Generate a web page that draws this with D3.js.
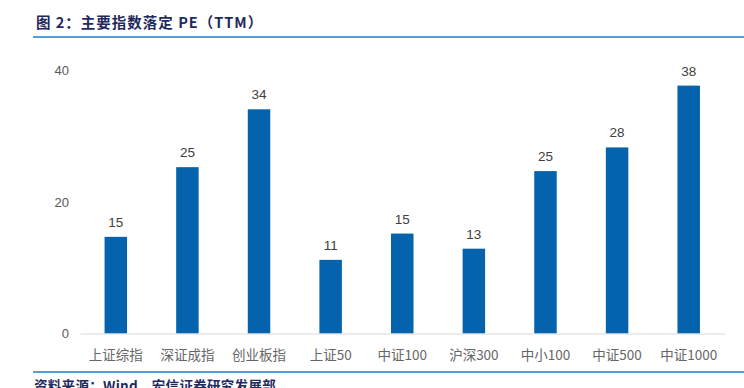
<!DOCTYPE html>
<html>
<head>
<meta charset="utf-8">
<script src="https://cdn.jsdelivr.net/npm/d3@7"></script>
<style>
  body { margin: 0; background: #fff; }
  svg { display: block; }
</style>
</head>
<body>
<div class="chart"></div>
<script>
// Data
const categories = ["上证综指", "深证成指", "创业板指", "上证50", "中证100", "沪深300", "中小100", "中证500", "中证1000"];
const peValues = [14.7, 25.3, 34.1, 11.2, 15.2, 12.9, 24.7, 28.3, 37.7];
const peLabels = ["15", "25", "34", "11", "15", "13", "25", "28", "38"];
const yTicks = [0, 20, 40];

let width = 744;
let height = 388;

// Baseline and top of the value scale
let baseY = 333.5;
let topY = 70.5;

let svg = d3.select(".chart").append("svg")
    .attr("width", width)
    .attr("height", height)
    .attr("viewBox", `0 0 ${width} ${height}`);

// Title
svg.append("text")
    .attr("x", 36)
    .attr("y", 28)
    .attr("fill", "#1f2a5e")
    .attr("font-family", "'Noto Sans CJK SC', sans-serif")
    .attr("font-weight", "bold")
    .attr("font-size", 14.5)
    .style("letter-spacing", "1px")
    .text("图 2：主要指数落定 PE（TTM）");

// Blue rules under title and above source
svg.append("line")
    .attr("x1", 33).attr("x2", width)
    .attr("y1", 37).attr("y2", 37)
    .attr("stroke", "#1a7fcf").attr("stroke-width", 1.5);

svg.append("line")
    .attr("x1", 33).attr("x2", width)
    .attr("y1", 372).attr("y2", 372)
    .attr("stroke", "#1a7fcf").attr("stroke-width", 1.5);

// Source text, partly cut by the bottom edge as in the reference
svg.append("text")
    .attr("x", 34)
    .attr("y", 391)
    .attr("fill", "#1f2a5e")
    .attr("font-family", "'Noto Sans CJK SC', sans-serif")
    .attr("font-weight", "bold")
    .attr("font-size", 13.5)
    .style("letter-spacing", "0.3px")
    .text("资料来源：Wind，宏信证券研究发展部");

// Scales
const xScale = d3.scaleBand()
    .domain(categories)
    .range([80, 724.5])
    .paddingInner(0.686)
    .paddingOuter(0.343);

const yScale = d3.scaleLinear()
    .domain([0, 40])
    .range([baseY, topY]);

// Y tick labels (no axis line)
let yAxis = svg.append("g")
    .attr("transform", "translate(69, 0)")
    .call(d3.axisLeft(yScale).tickValues(yTicks).tickSize(0).tickPadding(0).tickFormat(d3.format("d")));
yAxis.select(".domain").remove();
yAxis.selectAll("text")
    .attr("fill", "#595959")
    .attr("font-family", "Arial, 'Liberation Sans', sans-serif")
    .attr("font-size", 13);

// Bars
svg.selectAll(".bar")
    .data(peValues)
    .enter().append("rect")
    .attr("class", "bar")
    .attr("x", (d, i) => xScale(categories[i]))
    .attr("width", xScale.bandwidth())
    .attr("y", d => yScale(d))
    .attr("height", d => baseY - yScale(d))
    .attr("fill", "#0563ad");

// Value labels
svg.selectAll(".val")
    .data(peValues)
    .enter().append("text")
    .attr("class", "val")
    .attr("x", (d, i) => xScale(categories[i]) + xScale.bandwidth() / 2)
    .attr("y", d => yScale(d) - 10)
    .attr("text-anchor", "middle")
    .attr("fill", "#404040")
    .attr("font-family", "Arial, 'Liberation Sans', sans-serif")
    .attr("font-size", 13.5)
    .text((d, i) => peLabels[i]);

// X axis baseline and category labels
let xAxis = svg.append("g")
    .attr("transform", `translate(0, ${baseY})`)
    .call(d3.axisBottom(xScale).tickSize(0).tickPadding(17));
xAxis.select(".domain")
    .attr("stroke", "#d9d9d9")
    .attr("stroke-width", 1.2);
xAxis.selectAll("text")
    .attr("fill", "#666666")
    .attr("font-family", "'Noto Sans CJK SC', Arial, sans-serif")
    .attr("font-size", 13.5);
</script>
</body>
</html>
